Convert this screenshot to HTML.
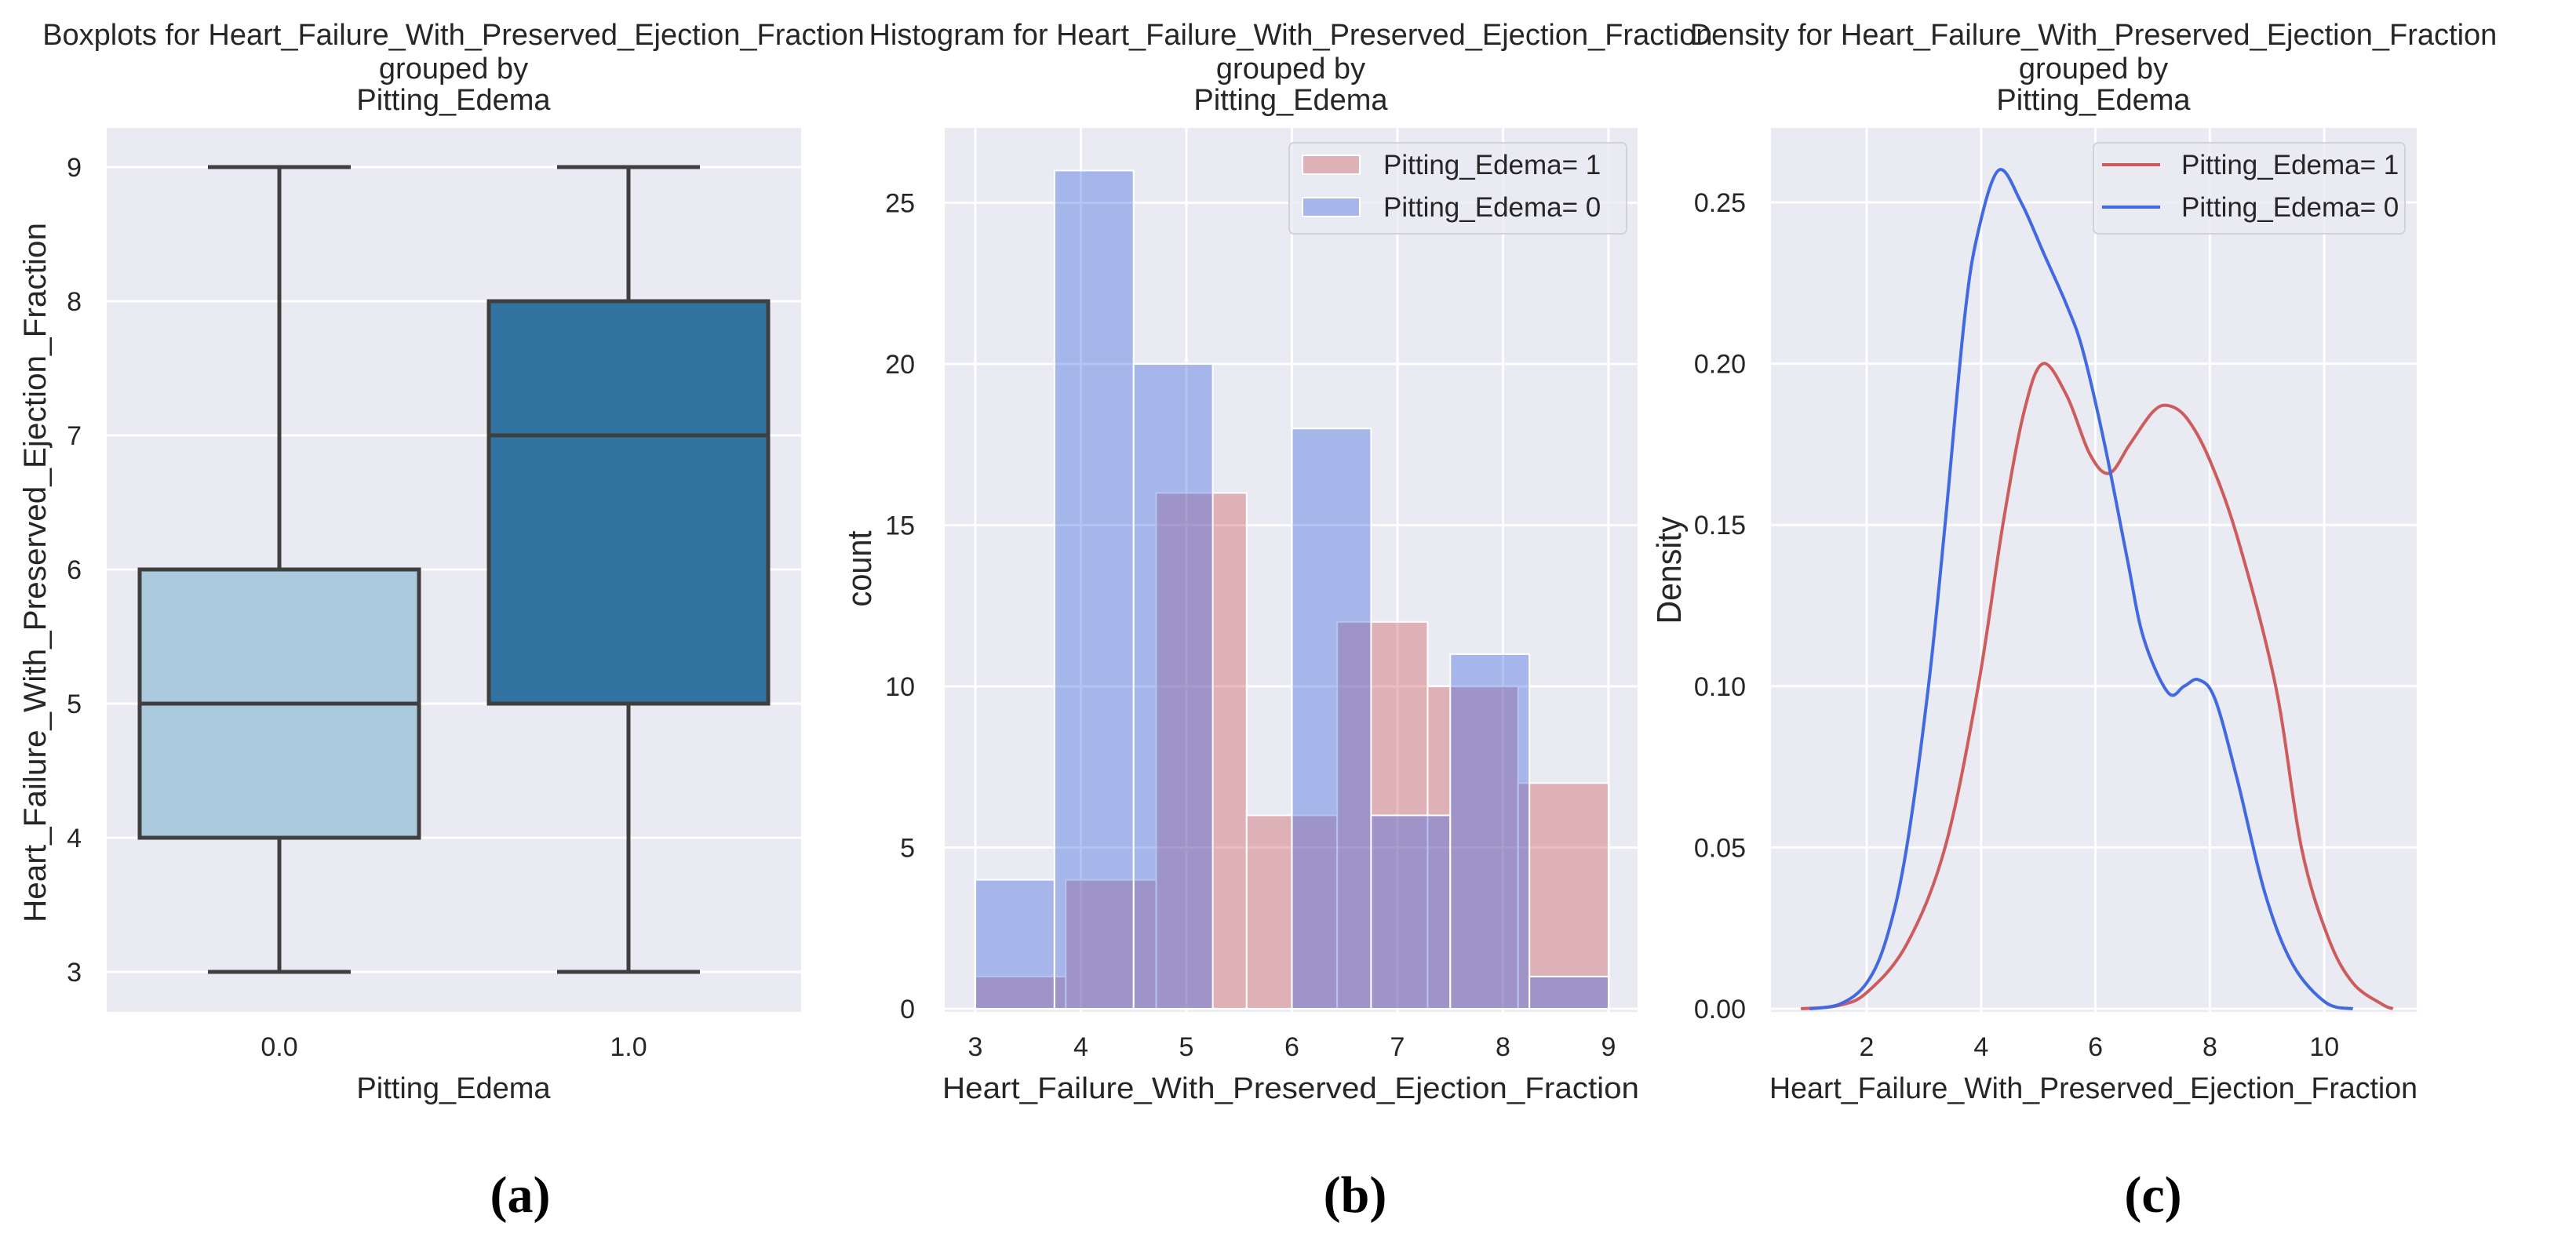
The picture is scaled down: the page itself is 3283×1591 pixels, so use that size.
<!DOCTYPE html>
<html><head><meta charset="utf-8"><style>
html,body{margin:0;padding:0;background:#fff;}
svg{display:block;font-family:"Liberation Sans",sans-serif;}
</style></head><body>
<svg id="fig" width="3283" height="1591" viewBox="0 0 3283 1591" xmlns="http://www.w3.org/2000/svg"></svg>
<script>
// ---- data ----
const boxCategories = ["0.0", "1.0"];
const boxMin = [3, 3];
const boxQ1 = [4, 5];
const boxMedian = [5, 7];
const boxQ3 = [6, 8];
const boxMax = [9, 9];
const boxYTicks = [3, 4, 5, 6, 7, 8, 9];

const histBlueEdges = [3, 3.75, 4.5, 5.25, 6, 6.75, 7.5, 8.25, 9];
const histBlueCounts = [4, 26, 20, 0, 18, 6, 11, 1];
const histRedEdges = [3, 3.857, 4.714, 5.571, 6.429, 7.286, 8.143, 9];
const histRedCounts = [1, 4, 16, 6, 12, 10, 7];
const histXTicks = [3, 4, 5, 6, 7, 8, 9];
const histYTicks = [0, 5, 10, 15, 20, 25];

const densRedX = [0.85, 1.5, 2, 2.7, 3.37, 3.95, 4.38, 4.75, 5.08, 5.5, 5.9, 6.24, 6.6, 7.0, 7.27, 7.6, 8.0, 8.5, 9.15, 9.6, 10.07, 10.5, 11.0, 11.2];
const densRedY = [0.0, 0.001, 0.005, 0.02, 0.05, 0.1, 0.15, 0.185, 0.2, 0.19, 0.172, 0.166, 0.175, 0.185, 0.187, 0.183, 0.17, 0.145, 0.1, 0.05, 0.022, 0.008, 0.0015, 0.0];
const densBlueX = [1.0, 1.54, 2.0, 2.35, 2.69, 3.08, 3.37, 3.71, 3.95, 4.31, 4.7, 5.1, 5.5, 5.78, 6.16, 6.55, 6.84, 7.27, 7.55, 7.8, 8.09, 8.48, 8.96, 9.44, 10.02, 10.5];
const densBlueY = [0.0, 0.0015, 0.008, 0.022, 0.049, 0.1, 0.15, 0.214, 0.241, 0.26, 0.25, 0.234, 0.218, 0.204, 0.175, 0.14, 0.115, 0.098, 0.1, 0.102, 0.096, 0.071, 0.036, 0.014, 0.002, 0.0];
const densXTicks = [2, 4, 6, 8, 10];
const densYTicks = [0, 0.05, 0.10, 0.15, 0.20, 0.25];

// ---- helpers ----
const NS = "http://www.w3.org/2000/svg";
const svg = document.getElementById("fig");
function el(tag, attrs, parent, text) {
  const e = document.createElementNS(NS, tag);
  for (const k in attrs) e.setAttribute(k, attrs[k]);
  if (text !== undefined) e.textContent = text;
  (parent || svg).appendChild(e);
  return e;
}
const TXT = "#262626", BG = "#eaeaf2";
const PT = 163, PB = 1290;

function title(cx, lines) {
  const t = el("text", {x: cx, y: 57, "text-anchor": "middle", "font-size": 38, fill: TXT});
  
  
  const ys = [57, 100, 140];
  lines.forEach((s, i) => { el("tspan", {x: cx, y: ys[i]}, t, s); });
}
function panelLabel(cx, s) {
  const t = el("text", {x: cx, y: 1545, "text-anchor": "middle", "font-size": 66, "font-weight": "bold", "font-family": "Liberation Serif, serif", fill: "#000"}, svg, s);
  
  
}
function plotBg(x0, x1) {
  const r = el("rect", {x: x0, y: PT, width: x1 - x0, height: PB - PT, fill: BG});
  
  
}
function hgrid(x0, x1, y) {
  const l = el("line", {x1: x0, x2: x1, y1: y, y2: y, stroke: "#fff", "stroke-width": 3});
  
  
}
function vgrid(x, y0, y1) {
  const l = el("line", {x1: x, x2: x, y1: y0, y2: y1, stroke: "#fff", "stroke-width": 3});
  
  
}
function ytick(xr, y, s) {
  const t = el("text", {x: xr, y: y + 12, "text-anchor": "end", "font-size": 34, fill: TXT}, svg, s);
  
  
}
function xtick(x, s) {
  const t = el("text", {x: x, y: 1346, "text-anchor": "middle", "font-size": 34, fill: TXT}, svg, s);
  
  
}
function xlabel(cx, s, len) {
  const a = {x: cx, y: 1400, "text-anchor": "middle", "font-size": 38, fill: TXT};
  if (len) { a.textLength = len; a.lengthAdjust = "spacingAndGlyphs"; }
  const t = el("text", a, svg, s);
  
  
}
function ylabel(x, cy, s, len, fs) {
  const t = el("text", {x: 0, y: 0, "text-anchor": "middle", "font-size": fs || 40, fill: TXT, textLength: len, lengthAdjust: "spacingAndGlyphs", transform: `translate(${x},${cy}) rotate(-90)`}, svg, s);
  
  
}

// ===== Panel A: boxplot =====
(function () {
  const x0 = 136, x1 = 1021;
  const ys = v => 213 + (9 - v) * 171;
  const catX = i => 356 + i * 445;
  plotBg(x0, x1);
  boxYTicks.forEach(v => { hgrid(x0, x1, ys(v)); ytick(104, ys(v), String(v)); });
  const fills = ["#abc9dc", "#3274a1"];
  const halfW = 178, capW = 91;
  boxCategories.forEach((c, i) => {
    const cx = catX(i);
    const g = el("g", {});
    
    
    el("line", {x1: cx, x2: cx, y1: ys(boxMax[i]), y2: ys(boxQ3[i]), stroke: "#3f3f3f", "stroke-width": 5}, g);
    el("line", {x1: cx, x2: cx, y1: ys(boxQ1[i]), y2: ys(boxMin[i]), stroke: "#3f3f3f", "stroke-width": 5}, g);
    el("line", {x1: cx - capW, x2: cx + capW, y1: ys(boxMax[i]), y2: ys(boxMax[i]), stroke: "#3f3f3f", "stroke-width": 5}, g);
    el("line", {x1: cx - capW, x2: cx + capW, y1: ys(boxMin[i]), y2: ys(boxMin[i]), stroke: "#3f3f3f", "stroke-width": 5}, g);
    el("rect", {x: cx - halfW, y: ys(boxQ3[i]), width: 2 * halfW, height: ys(boxQ1[i]) - ys(boxQ3[i]), fill: fills[i], stroke: "#3f3f3f", "stroke-width": 5}, g);
    el("line", {x1: cx - halfW, x2: cx + halfW, y1: ys(boxMedian[i]), y2: ys(boxMedian[i]), stroke: "#3f3f3f", "stroke-width": 5}, g);
    xtick(cx, c);
  });
  title(578, ["Boxplots for Heart_Failure_With_Preserved_Ejection_Fraction", "grouped by", "Pitting_Edema"]);
  xlabel(578, "Pitting_Edema");
  ylabel(58, 730, "Heart_Failure_With_Preserved_Ejection_Fraction", 892);
  panelLabel(663, "(a)");
})();

// ===== Panel B: histogram =====
(function () {
  const x0 = 1204, x1 = 2087;
  const xs = v => 1243 + (v - 3) * 134.5;
  const ys = v => 1286 - v * 41.1;
  plotBg(x0, x1);
  histYTicks.forEach(v => { hgrid(x0, x1, ys(v)); ytick(1166, ys(v), String(v)); });
  histXTicks.forEach(v => { vgrid(xs(v), PT, PB); xtick(xs(v), String(v)); });
  histRedCounts.forEach((c, i) => {
    const r = el("rect", {x: xs(histRedEdges[i]), y: ys(c), width: xs(histRedEdges[i + 1]) - xs(histRedEdges[i]), height: ys(0) - ys(c), fill: "rgba(205,92,92,0.4)", stroke: "#fff", "stroke-width": 2});
    
    
  });
  histBlueCounts.forEach((c, i) => {
    const r = el("rect", {x: xs(histBlueEdges[i]), y: ys(c), width: xs(histBlueEdges[i + 1]) - xs(histBlueEdges[i]), height: ys(0) - ys(c), fill: "rgba(65,105,225,0.4)", stroke: "#fff", "stroke-width": 2});
    
    
  });
  const lg = el("g", {});
  
  
  el("rect", {x: 1643, y: 182, width: 430, height: 116, rx: 6, fill: "rgba(234,234,242,0.8)", stroke: "#d2d2d8", "stroke-width": 2}, lg);
  const e1 = el("rect", {x: 1660, y: 198, width: 73, height: 24, fill: "#dfb2ba", stroke: "#fff", "stroke-width": 2}, lg);
  
  
  el("text", {x: 1763, y: 222, "font-size": 35, fill: TXT}, lg, "Pitting_Edema= 1");
  const e2 = el("rect", {x: 1660, y: 252, width: 73, height: 24, fill: "#a7b6ea", stroke: "#fff", "stroke-width": 2}, lg);
  
  
  el("text", {x: 1763, y: 276, "font-size": 35, fill: TXT}, lg, "Pitting_Edema= 0");
  title(1645, ["Histogram for Heart_Failure_With_Preserved_Ejection_Fraction", "grouped by", "Pitting_Edema"]);
  xlabel(1645, "Heart_Failure_With_Preserved_Ejection_Fraction", 888);
  ylabel(1110, 725, "count", 97, 44);
  panelLabel(1727, "(b)");
})();

// ===== Panel C: density =====
(function () {
  const x0 = 2257, x1 = 3080;
  const xs = v => 2379 + (v - 2) * 72.9;
  const ys = v => 1286 - v * 4112;
  plotBg(x0, x1);
  densYTicks.forEach(v => { hgrid(x0, x1, ys(v)); ytick(2225, ys(v), v.toFixed(2)); });
  densXTicks.forEach(v => { vgrid(xs(v), PT, PB); xtick(xs(v), String(v)); });
  function smooth(X, Y) {
    const p = X.map((x, i) => [xs(x), ys(Y[i])]);
    let d = `M${p[0][0]},${p[0][1]}`;
    for (let i = 0; i < p.length - 1; i++) {
      const a = p[i - 1] || p[i], b = p[i], c = p[i + 1], e = p[i + 2] || c;
      const c1 = [b[0] + (c[0] - a[0]) / 6, b[1] + (c[1] - a[1]) / 6];
      const c2 = [c[0] - (e[0] - b[0]) / 6, c[1] - (e[1] - b[1]) / 6];
      d += ` C${c1[0]},${c1[1]} ${c2[0]},${c2[1]} ${c[0]},${c[1]}`;
    }
    return d;
  }
  const r = el("path", {d: smooth(densRedX, densRedY), fill: "none", stroke: "#cd5c5c", "stroke-width": 4});
  
  
  const b = el("path", {d: smooth(densBlueX, densBlueY), fill: "none", stroke: "#4169e1", "stroke-width": 4});
  
  
  const lg = el("g", {});
  
  
  el("rect", {x: 2668, y: 182, width: 397, height: 116, rx: 6, fill: "rgba(234,234,242,0.8)", stroke: "#d2d2d8", "stroke-width": 2}, lg);
  el("line", {x1: 2679, x2: 2753, y1: 210, y2: 210, stroke: "#cd5c5c", "stroke-width": 4}, lg);
  el("text", {x: 2780, y: 222, "font-size": 35, fill: TXT}, lg, "Pitting_Edema= 1");
  el("line", {x1: 2679, x2: 2753, y1: 264, y2: 264, stroke: "#4169e1", "stroke-width": 4}, lg);
  el("text", {x: 2780, y: 276, "font-size": 35, fill: TXT}, lg, "Pitting_Edema= 0");
  title(2668, ["Density for Heart_Failure_With_Preserved_Ejection_Fraction", "grouped by", "Pitting_Edema"]);
  xlabel(2668, "Heart_Failure_With_Preserved_Ejection_Fraction", 826);
  ylabel(2142, 727, "Density", 137, 44);
  panelLabel(2744, "(c)");
})();
</script>
</body></html>
